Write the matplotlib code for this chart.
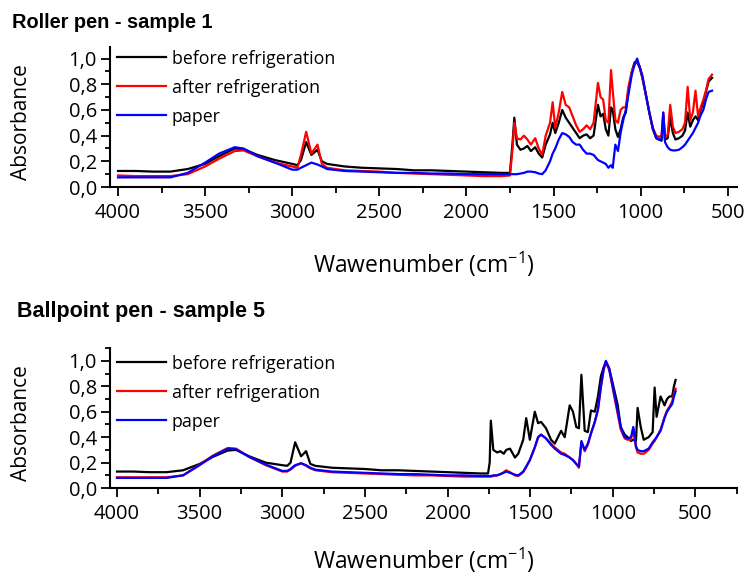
from matplotlib import pyplot as plt
from matplotlib.ticker import MultipleLocator, FuncFormatter

# 上图: Roller pen - sample 1
wn_roller = [4000, 3900, 3800, 3700, 3600, 3500, 3420, 3330, 3280, 3200, 3100, 3000, 2970, 2950,
             2920, 2890, 2855, 2830, 2800, 2700, 2600, 2500, 2400, 2300, 2200, 2100, 2000, 1900,
             1800, 1750, 1735, 1725, 1710, 1690, 1670, 1650, 1630, 1605, 1585, 1565, 1545, 1520,
             1505, 1490, 1470, 1450, 1430, 1410, 1390, 1370, 1350, 1330, 1310, 1290, 1270, 1245,
             1230, 1215, 1200, 1185, 1170, 1160, 1145, 1130, 1115, 1100, 1085, 1070, 1050, 1035,
             1020, 1005, 990, 970, 950, 930, 910, 895, 880, 870, 860, 845, 830, 815, 800, 780,
             760, 745, 730, 715, 700, 685, 670, 655, 640, 625, 610, 590]
roller_before = [0.125, 0.125, 0.12, 0.12, 0.14, 0.18, 0.24, 0.30, 0.295, 0.25, 0.21, 0.18, 0.17, 0.21,
                 0.35, 0.25, 0.29, 0.20, 0.18, 0.16, 0.15, 0.145, 0.14, 0.13, 0.13, 0.125, 0.12, 0.115,
                 0.11, 0.11, 0.35, 0.54, 0.33, 0.29, 0.30, 0.32, 0.28, 0.31, 0.26, 0.23, 0.33, 0.41,
                 0.50, 0.42, 0.50, 0.60, 0.54, 0.50, 0.46, 0.42, 0.38, 0.40, 0.41, 0.38, 0.40, 0.64,
                 0.55, 0.57, 0.45, 0.40, 0.62, 0.60, 0.45, 0.39, 0.45, 0.54, 0.58, 0.75, 0.90, 0.97,
                 0.97, 0.93, 0.85, 0.72, 0.58, 0.45, 0.38, 0.37, 0.36, 0.55, 0.37, 0.38, 0.54, 0.42,
                 0.37, 0.38, 0.40, 0.44, 0.58, 0.47, 0.52, 0.55, 0.52, 0.60, 0.66, 0.74, 0.82, 0.85]
roller_after = [0.09, 0.085, 0.085, 0.085, 0.10, 0.16, 0.22, 0.28, 0.285, 0.24, 0.19, 0.16, 0.15, 0.25,
                0.43, 0.26, 0.33, 0.18, 0.15, 0.13, 0.125, 0.12, 0.11, 0.105, 0.10, 0.095, 0.09, 0.085,
                0.085, 0.09, 0.30, 0.50, 0.38, 0.37, 0.40, 0.37, 0.33, 0.38, 0.30, 0.25, 0.40, 0.50,
                0.66, 0.46, 0.58, 0.74, 0.64, 0.62, 0.55, 0.48, 0.43, 0.45, 0.48, 0.45, 0.50, 0.81,
                0.70, 0.68, 0.52, 0.50, 0.91, 0.75, 0.52, 0.50, 0.60, 0.62, 0.62, 0.78, 0.90, 0.96,
                0.97, 0.94, 0.85, 0.72, 0.58, 0.46, 0.40, 0.39, 0.40, 0.58, 0.40, 0.40, 0.64, 0.47,
                0.42, 0.43, 0.45, 0.50, 0.78, 0.52, 0.58, 0.75, 0.55, 0.62, 0.68, 0.75, 0.84, 0.875]
roller_paper = [0.075, 0.075, 0.075, 0.075, 0.11, 0.19, 0.26, 0.31, 0.30, 0.24, 0.19, 0.135, 0.135, 0.15,
                0.17, 0.19, 0.175, 0.16, 0.14, 0.125, 0.12, 0.115, 0.11, 0.11, 0.105, 0.105, 0.10, 0.10,
                0.10, 0.10, 0.10, 0.10, 0.10, 0.105, 0.11, 0.12, 0.12, 0.115, 0.105, 0.10, 0.13, 0.20,
                0.26, 0.30, 0.37, 0.42, 0.41, 0.39, 0.35, 0.33, 0.33, 0.29, 0.26, 0.26, 0.25, 0.21,
                0.20, 0.19, 0.18, 0.15, 0.17, 0.15, 0.33, 0.28, 0.42, 0.52, 0.60, 0.72, 0.88, 0.95,
                1.00, 0.93, 0.87, 0.72, 0.58, 0.46, 0.38, 0.37, 0.37, 0.58, 0.35, 0.31, 0.29, 0.285,
                0.285, 0.29, 0.31, 0.33, 0.36, 0.39, 0.42, 0.46, 0.50, 0.56, 0.60, 0.68, 0.74, 0.75]

# 下图: Ballpoint pen - sample 5
wn_ball = [4000, 3900, 3800, 3700, 3600, 3500, 3420, 3330, 3280, 3200, 3100, 3000, 2970, 2950,
           2922, 2886, 2856, 2830, 2800, 2700, 2600, 2500, 2400, 2300, 2200, 2100, 2000, 1900,
           1800, 1755, 1745, 1738, 1723, 1700, 1680, 1660, 1645, 1622, 1592, 1572, 1542, 1524,
           1502, 1472, 1452, 1434, 1404, 1374, 1351, 1313, 1291, 1261, 1241, 1221, 1205, 1190,
           1170, 1151, 1132, 1109, 1090, 1072, 1055, 1042, 1022, 1000, 970, 952, 928, 910, 890,
           876, 860, 850, 831, 813, 783, 759, 747, 735, 711, 687, 672, 657, 641, 630, 620]
ball_before = [0.13, 0.13, 0.125, 0.125, 0.14, 0.19, 0.245, 0.295, 0.30, 0.25, 0.20, 0.18, 0.175, 0.20,
               0.36, 0.25, 0.29, 0.19, 0.175, 0.16, 0.155, 0.15, 0.14, 0.14, 0.135, 0.13, 0.125, 0.12,
               0.115, 0.115, 0.20, 0.53, 0.30, 0.28, 0.29, 0.27, 0.30, 0.31, 0.24, 0.27, 0.38, 0.55,
               0.38, 0.60, 0.51, 0.52, 0.47, 0.38, 0.35, 0.45, 0.40, 0.65, 0.60, 0.48, 0.47, 0.89,
               0.45, 0.44, 0.61, 0.60, 0.72, 0.88, 0.95, 0.99, 0.94, 0.82, 0.65, 0.48, 0.42, 0.40, 0.37,
               0.38, 0.37, 0.63, 0.48, 0.38, 0.40, 0.44, 0.79, 0.56, 0.72, 0.65, 0.70, 0.72, 0.72, 0.80, 0.85]
ball_after = [0.085, 0.085, 0.085, 0.085, 0.10, 0.185, 0.255, 0.315, 0.31, 0.245, 0.18, 0.13, 0.13, 0.145,
              0.175, 0.195, 0.175, 0.155, 0.14, 0.125, 0.12, 0.115, 0.11, 0.105, 0.10, 0.10, 0.095, 0.09,
              0.09, 0.09, 0.09, 0.09, 0.095, 0.10, 0.11, 0.125, 0.14, 0.125, 0.10, 0.095, 0.125, 0.165,
              0.22, 0.32, 0.40, 0.42, 0.39, 0.35, 0.32, 0.28, 0.27, 0.24, 0.22, 0.19, 0.16, 0.36,
              0.29, 0.34, 0.43, 0.52, 0.61, 0.79, 0.93, 0.99, 0.93, 0.78, 0.58, 0.46, 0.39, 0.38, 0.38,
              0.47, 0.32, 0.28, 0.27, 0.27, 0.30, 0.35, 0.37, 0.40, 0.46, 0.56, 0.61, 0.64, 0.68, 0.74, 0.78]
ball_paper = [0.08, 0.08, 0.08, 0.08, 0.10, 0.18, 0.25, 0.31, 0.305, 0.245, 0.185, 0.135, 0.135, 0.15,
              0.18, 0.195, 0.18, 0.16, 0.145, 0.13, 0.125, 0.12, 0.115, 0.11, 0.11, 0.105, 0.10, 0.10,
              0.095, 0.095, 0.095, 0.095, 0.10, 0.10, 0.11, 0.12, 0.13, 0.12, 0.105, 0.10, 0.13, 0.17,
              0.22, 0.32, 0.40, 0.42, 0.39, 0.34, 0.31, 0.27, 0.26, 0.24, 0.22, 0.19, 0.17, 0.37,
              0.30, 0.35, 0.43, 0.52, 0.62, 0.80, 0.94, 1.00, 0.94, 0.80, 0.60, 0.48, 0.40, 0.39, 0.40,
              0.48, 0.33, 0.30, 0.29, 0.29, 0.31, 0.36, 0.38, 0.40, 0.45, 0.55, 0.60, 0.63, 0.66, 0.72, 0.76]

labels = ['before refrigeration', 'after refrigeration', 'paper']
colors = ['black', 'red', 'blue']

plt.rcParams['font.family'] = ['Open Sans', 'DejaVu Sans']
plt.rcParams['mathtext.default'] = 'regular'

fig = plt.figure(figsize=(7.47, 5.79), dpi=100)

comma = FuncFormatter(lambda v, p: '{:.1f}'.format(v).replace('.', ','))


def draw(ax, wn, series, xlim, ylim, title, title_xy, title_size, leg_top, xlab_y):
    for y, c, lab in zip(series, colors, labels):
        ax.plot(wn, y, color=c, lw=1.6, label=lab)
    ax.set_xlim(*xlim)
    ax.set_ylim(*ylim)
    for s in ['top', 'right']:
        ax.spines[s].set_visible(False)
    for s in ['left', 'bottom']:
        ax.spines[s].set_linewidth(1.5)
    ax.xaxis.set_major_locator(MultipleLocator(500))
    ax.xaxis.set_minor_locator(MultipleLocator(250))
    ax.yaxis.set_major_locator(MultipleLocator(0.2))
    ax.yaxis.set_minor_locator(MultipleLocator(0.1))
    ax.yaxis.set_major_formatter(comma)
    ax.tick_params(axis='x', which='major', length=6.5, width=1.3, labelsize=14.5, pad=5)
    ax.tick_params(axis='x', which='minor', length=4.5, width=1.3)
    ax.tick_params(axis='y', which='major', length=6.5, width=1.3, labelsize=14.5, pad=3)
    ax.tick_params(axis='y', which='minor', length=3.5, width=1.3)
    ax.set_xlabel('Wawenumber (cm$^{-1}$)', fontsize=16.5, va='baseline')
    ax.xaxis.set_label_coords(0.5, xlab_y)
    ax.set_ylabel('Absorbance', fontsize=15)
    ax.yaxis.set_label_coords(-0.125, 0.464)
    ax.legend(loc='upper left', bbox_to_anchor=(0.011, leg_top), frameon=False,
              fontsize=12.8, handlelength=2.75, handletextpad=0.34, labelspacing=0.62,
              borderpad=0, borderaxespad=0)
    fig.text(title_xy[0], title_xy[1], title, fontsize=title_size, fontweight='bold',
             family='Liberation Sans', va='baseline')


ax1 = fig.add_axes([0.1473, 0.677, 0.839, 0.2418])
draw(ax1, wn_roller, [roller_before, roller_after, roller_paper], (4046, 448), (0, 1.09),
     'Roller pen - sample 1', (12 / 747, 1 - 28 / 579), 14.4, 0.981, -0.614)

ax2 = fig.add_axes([0.1473, 0.157, 0.839, 0.2418])
draw(ax2, wn_ball, [ball_before, ball_after, ball_paper], (4042, 250), (0, 1.10),
     'Ballpoint pen - sample 5', (17 / 747, 1 - 317 / 579), 15.5, 0.953, -0.58)

plt.savefig('out.png', dpi=100)
